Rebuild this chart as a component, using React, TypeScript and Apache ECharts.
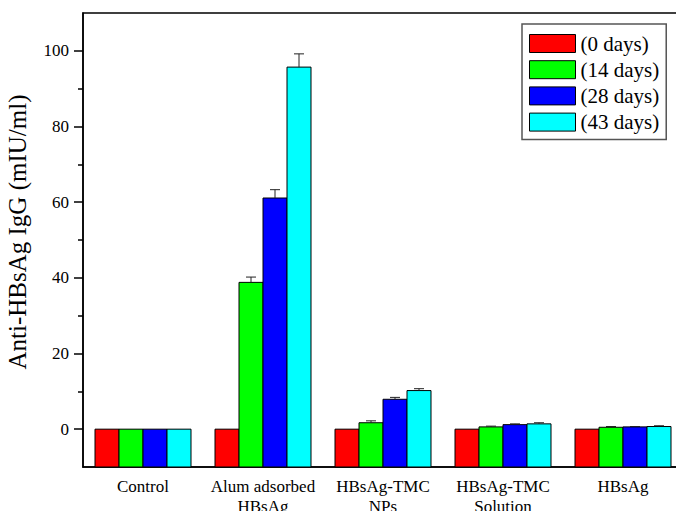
import React, { useEffect, useRef } from "react";
import * as echarts from "echarts";

const categories = ["Control", "Alum adsorbed\nHBsAg", "HBsAg-TMC\nNPs", "HBsAg-TMC\nSolution", "HBsAg"];
const seriesNames = ["(0 days)", "(14 days)", "(28 days)", "(43 days)"];
const seriesColors = ["#ff0000", "#00ff00", "#0000ff", "#00ffff"];
const day0 = [0, 0, 0, 0, 0];
const day14 = [0, 38.8, 1.7, 0.6, 0.5];
const day28 = [0, 61.1, 7.9, 1.2, 0.6];
const day43 = [0, 95.7, 10.2, 1.4, 0.7];
const err0 = [0, 0, 0, 0, 0];
const err14 = [0, 1.4, 0.5, 0.2, 0.2];
const err28 = [0, 2.2, 0.5, 0.2, 0.1];
const err43 = [0, 3.5, 0.5, 0.3, 0.2];
const yMajorTicks = [0, 20, 40, 60, 80, 100];
const yMinorTicks = [10, 30, 50, 70, 90];

const values = [day0, day14, day28, day43];
const errors = [err0, err14, err28, err43];
const Y_MIN = -10;
const Y_MAX = 110;
const FONT = "Liberation Serif";

export default function App() {
  const ref = useRef<HTMLDivElement>(null);
  useEffect(() => {
    if (!ref.current) return;
    const chart = echarts.init(ref.current, null, { renderer: "svg" });
    const series = seriesNames.map((name, k) => ({
      type: "custom",
      name,
      itemStyle: { color: seriesColors[k], borderColor: "#000", borderWidth: 1 },
      encode: { x: 0, y: 1 },
      data: categories.map((_, i) => [i, values[k][i], errors[k][i]]),
      renderItem: (params: any, api: any) => {
        const cat = api.value(0);
        const v = api.value(1);
        const e = api.value(2);
        const band = api.size([1, 0])[0];
        const bw = band * 0.2;
        const cx = api.coord([cat, 0])[0];
        const x0 = cx - 2 * bw + k * bw;
        const yTop = api.coord([cat, v])[1];
        const yBot = api.coord([cat, Y_MIN])[1];
        const children: any[] = [
          {
            type: "rect",
            shape: { x: x0, y: yTop, width: bw, height: yBot - yTop },
            style: { fill: seriesColors[k], stroke: "#000", lineWidth: 1 },
          },
        ];
        if (e > 0) {
          const yE = api.coord([cat, v + e])[1];
          const mx = x0 + bw / 2;
          children.push({
            type: "line",
            shape: { x1: mx, y1: yTop, x2: mx, y2: yE },
            style: { stroke: "#222", lineWidth: 1 },
          });
          children.push({
            type: "line",
            shape: { x1: mx - 5, y1: yE, x2: mx + 5, y2: yE },
            style: { stroke: "#222", lineWidth: 1 },
          });
        }
        return { type: "group", children };
      },
    }));
    chart.setOption({
      animation: false,
      color: seriesColors,
      textStyle: { fontFamily: FONT },
      grid: {
        left: 83,
        top: 13,
        right: -7,
        bottom: 44,
        outerBoundsMode: "none",
        containLabel: false,
        show: true,
        borderColor: "#000",
        borderWidth: 1.5,
      },
      legend: {
        data: seriesNames,
        orient: "vertical",
        left: 522,
        top: 24,
        icon: "rect",
        itemWidth: 46,
        itemHeight: 18,
        itemGap: 5.2,
        padding: [9, 7, 7, 7],
        borderColor: "#555",
        borderWidth: 1.5,
        backgroundColor: "#fff",
        itemStyle: { borderColor: "#000", borderWidth: 1 },
        textStyle: { fontFamily: FONT, fontSize: 21, color: "#000" },
      },
      xAxis: [
        {
          type: "category",
          data: categories,
          axisLine: { onZero: false, lineStyle: { color: "#000", width: 1.5 } },
          axisTick: { alignWithLabel: true, length: 7, lineStyle: { color: "#000", width: 1.5 } },
          axisLabel: { fontFamily: FONT, fontSize: 17, color: "#000", margin: 9, lineHeight: 20, interval: 0 },
          splitLine: { show: false },
        },
        {
          type: "category",
          data: categories,
          position: "bottom",
          axisLine: { show: false, onZero: false },
          axisTick: { length: 4, lineStyle: { color: "#000", width: 1.5 } },
          axisLabel: { show: false },
          splitLine: { show: false },
        },
      ],
      yAxis: [
        {
          type: "value",
          min: Y_MIN,
          max: Y_MAX,
          interval: 10,
          name: "Anti-HBsAg IgG (mIU/ml)",
          nameLocation: "middle",
          nameGap: 53,
          nameTextStyle: { fontFamily: FONT, fontSize: 25, color: "#000", padding: [0, 0, 0, 16] },
          axisLine: { show: true, onZero: false, lineStyle: { color: "#000", width: 1.5 } },
          axisTick: { show: true, length: 9, customValues: yMajorTicks, lineStyle: { color: "#000", width: 1.5 } },
          axisLabel: { customValues: yMajorTicks, fontFamily: FONT, fontSize: 17, color: "#000", margin: 14 },
          splitLine: { show: false },
        },
        {
          type: "value",
          min: Y_MIN,
          max: Y_MAX,
          interval: 10,
          position: "left",
          axisLine: { show: false, onZero: false },
          axisTick: { show: true, length: 5, customValues: yMinorTicks, lineStyle: { color: "#000", width: 1.5 } },
          axisLabel: { show: false },
          splitLine: { show: false },
        },
      ],
      series,
    });
    return () => chart.dispose();
  }, []);
  return <div ref={ref} style={{ position: "absolute", left: 0, top: 0, width: 676, height: 511, background: "#fff" }} />;
}
